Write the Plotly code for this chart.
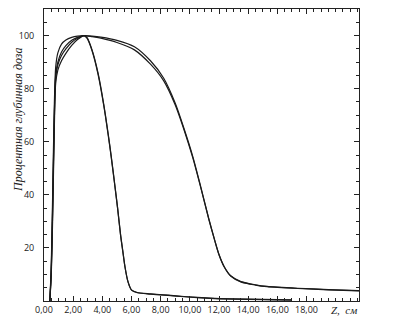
import plotly.graph_objects as go

# depth, cm
z_w1 = [0.40, 0.50, 0.60, 0.70, 0.80, 0.95, 1.20, 1.50, 1.90, 2.30, 2.75, 3.30, 3.90, 5.00, 6.20, 7.30,
        8.20, 9.00, 9.60, 10.20, 10.75, 11.30, 11.70, 12.00, 12.35, 12.80, 13.50, 14.50, 15.30, 17.40, 19.50, 21.60]
d_w1 = [0.0, 14.0, 42.0, 72.0, 88.0, 93.5, 96.8, 98.3, 99.3, 99.8, 100.0, 99.8, 99.4, 98.2, 95.8, 90.5,
        84.0, 74.5, 65.0, 54.5, 43.0, 31.0, 23.0, 17.5, 13.0, 9.5, 7.3, 6.1, 5.5, 4.8, 4.3, 3.9]

z_w2 = [0.40, 0.50, 0.60, 0.70, 0.80, 0.95, 1.20, 1.50, 1.90, 2.30, 2.75, 3.30, 3.90, 5.00, 6.20, 7.30,
        8.20, 9.00, 9.60, 10.20, 10.75, 11.30, 11.70, 12.00, 12.35, 12.80, 13.50, 14.50, 15.30, 17.40, 19.50, 21.60]
d_w2 = [0.0, 12.0, 38.0, 68.0, 85.0, 90.0, 93.8, 96.2, 98.2, 99.3, 100.0, 99.6, 99.0, 97.4, 94.6, 89.2,
        83.0, 73.8, 64.5, 54.0, 42.7, 30.8, 22.9, 17.4, 12.9, 9.4, 7.2, 6.0, 5.4, 4.7, 4.2, 3.8]

z_n1 = [0.40, 0.50, 0.60, 0.70, 0.80, 0.95, 1.20, 1.50, 1.90, 2.30, 2.75, 2.95, 3.30, 3.70, 4.10, 4.40,
        4.60, 4.85, 5.05, 5.25, 5.40, 5.55, 5.75, 6.00, 6.40, 7.30, 8.50, 9.60, 11.40, 13.00, 15.00, 17.00]
d_n1 = [0.0, 11.0, 36.0, 66.0, 84.0, 89.0, 92.5, 95.0, 97.5, 99.0, 100.0, 99.2, 94.5, 86.0, 74.0, 63.0,
        55.0, 44.0, 35.0, 25.0, 19.0, 13.0, 7.5, 4.2, 3.2, 2.7, 2.2, 1.7, 1.1, 0.8, 0.6, 0.4]

z_n2 = [0.40, 0.50, 0.60, 0.70, 0.80, 0.95, 1.20, 1.50, 1.90, 2.30, 2.75, 2.95, 3.30, 3.70, 4.10, 4.40,
        4.60, 4.85, 5.05, 5.25, 5.40, 5.55, 5.75, 6.00, 6.40, 7.30, 8.50, 9.60, 11.40, 13.00, 15.00, 17.00]
d_n2 = [0.0, 10.0, 33.0, 63.0, 82.0, 87.0, 90.5, 93.3, 96.3, 98.5, 100.0, 99.0, 94.2, 85.6, 73.6, 62.6,
        54.6, 43.7, 34.7, 24.8, 18.8, 12.9, 7.4, 4.1, 3.1, 2.6, 2.1, 1.6, 1.0, 0.7, 0.5, 0.3]

x_tickvals = [0, 2, 4, 6, 8, 10, 12, 14, 16, 18]
x_ticktext = ["0,00", "2,00", "4,00", "6,00", "8,00", "10,00", "12,00", "14,00", "16,00", "18,00"]
y_tickvals = [20, 40, 60, 80, 100]
y_ticktext = ["20", "40", "60", "80", "100"]

fig = go.Figure()
for zz, dd in [(z_w1, d_w1), (z_w2, d_w2), (z_n1, d_n1), (z_n2, d_n2)]:
    fig.add_trace(go.Scatter(x=zz, y=dd, mode="lines",
                             line=dict(color="#1a1a1a", width=1.2, shape="spline", smoothing=0.7),
                             showlegend=False, hoverinfo="skip"))

tickfont = dict(family="Open Sans", size=9, color="#1a1a1a")
fig.update_layout(
    width=394, height=334,
    margin=dict(l=44, r=35, t=9, b=33),
    paper_bgcolor="white", plot_bgcolor="white",
    xaxis=dict(range=[0, 21.6], tickmode="array", tickvals=x_tickvals, ticktext=x_ticktext,
               ticks="inside", ticklen=5, tickcolor="#222", showgrid=False, zeroline=False,
               showline=True, linecolor="#222", linewidth=1, mirror="ticks",
               tickfont=tickfont,
               minor=dict(tick0=0, dtick=0.5, ticks="inside", ticklen=3, tickcolor="#222", showgrid=False)),
    yaxis=dict(range=[0, 110], tickmode="array", tickvals=y_tickvals, ticktext=y_ticktext,
               ticks="inside", ticklen=5, tickcolor="#222", showgrid=False, zeroline=False,
               showline=True, linecolor="#222", linewidth=1, mirror="ticks",
               tickfont=tickfont, ticklabelstandoff=7,
               minor=dict(tick0=0, dtick=5, ticks="inside", ticklen=3, tickcolor="#222", showgrid=False)),
    annotations=[
        dict(text="<i>Процентная глубинная доза</i>", textangle=-90, xref="paper", yref="paper",
             x=-0.0825, y=0.62, showarrow=False, xanchor="center", yanchor="middle",
             font=dict(family="Liberation Serif", size=12, color="#222")),
        dict(text="<i>Z,  см</i>", xref="paper", yref="paper", x=0.952, y=-0.031,
             showarrow=False, xanchor="center", yanchor="middle",
             font=dict(family="Liberation Serif", size=11, color="#222")),
    ],
)

fig.write_html("out.html", config={"displayModeBar": False},
               post_script="document.body.style.margin='0';")
